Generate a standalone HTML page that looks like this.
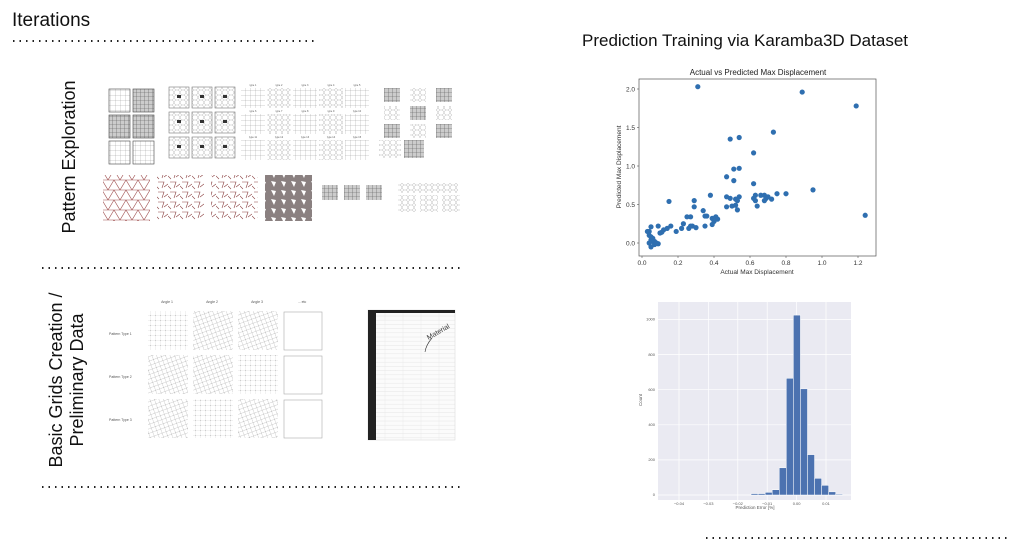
<!DOCTYPE html>
<html><head><meta charset="utf-8"><style>
body{margin:0;background:#fff;}
svg{display:block;font-family:"Liberation Sans",sans-serif;}
</style></head><body>
<svg id="s" width="1024" height="560" viewBox="0 0 1024 560">
<defs>
<pattern id="pGrid" width="5" height="5" patternUnits="userSpaceOnUse"><path d="M5 0H0V5" fill="none" stroke="#999" stroke-width="0.5"/></pattern>
<pattern id="pGridDark" width="4" height="4" patternUnits="userSpaceOnUse"><rect width="4" height="4" fill="#ccc"/><path d="M4 0H0V4" fill="none" stroke="#555" stroke-width="0.6"/></pattern>
<pattern id="pHex" width="6" height="5" patternUnits="userSpaceOnUse"><path d="M0 2.5L1.5 0H4.5L6 2.5L4.5 5H1.5Z" fill="none" stroke="#aaa" stroke-width="0.4"/></pattern>
<pattern id="pTri" width="12" height="10" patternUnits="userSpaceOnUse"><path d="M0 10L6 0L12 10M0 0H12M0 10H12" fill="none" stroke="#a05050" stroke-width="0.6"/></pattern>
<pattern id="pPin" width="12" height="10" patternUnits="userSpaceOnUse"><path d="M2 2L8 2L6 8M8 7L12 4M0 6L3 9" fill="none" stroke="#8a4040" stroke-width="0.6"/></pattern>
<pattern id="pPinG" width="10" height="9" patternUnits="userSpaceOnUse"><rect width="10" height="9" fill="#8a8080"/><path d="M1 1L6 2L4 7Z" fill="#fff"/></pattern>
<pattern id="pDot" width="5" height="5" patternUnits="userSpaceOnUse"><path d="M5 0H0V5" fill="none" stroke="#bbb" stroke-width="0.4"/><circle cx="0" cy="0" r="0.5" fill="#444"/></pattern>
<pattern id="pDiag" width="6" height="6" patternUnits="userSpaceOnUse" patternTransform="rotate(25)"><path d="M0 0L6 6M6 0L0 6" fill="none" stroke="#aaa" stroke-width="0.4"/></pattern>
</defs>

<text x="12" y="26" font-size="19" fill="#111">Iterations</text>
<line x1="13" y1="41" x2="316" y2="41" stroke="#222" stroke-width="2" stroke-dasharray="1.5 5"/>
<text x="745" y="46" font-size="17" text-anchor="middle" fill="#111">Prediction Training via Karamba3D Dataset</text>
<line x1="42" y1="268" x2="464" y2="268" stroke="#222" stroke-width="2" stroke-dasharray="1.5 5"/>
<line x1="42" y1="487" x2="464" y2="487" stroke="#222" stroke-width="2" stroke-dasharray="1.5 5"/>
<line x1="706" y1="538" x2="1010" y2="538" stroke="#222" stroke-width="2" stroke-dasharray="1.5 5"/>

<text transform="translate(75,157) rotate(-90)" font-size="18" text-anchor="middle" fill="#111">Pattern Exploration</text>
<text transform="translate(62,380) rotate(-90)" font-size="18" text-anchor="middle" fill="#111">Basic Grids Creation /</text>
<text transform="translate(83,380) rotate(-90)" font-size="18" text-anchor="middle" fill="#111">Preliminary Data</text>

<g id="thumbs"></g>
<g id="scatter"></g>
<g id="hist"></g>
</svg>
<script>
const NS="http://www.w3.org/2000/svg";
function mk(p,tag,a){const e=document.createElementNS(NS,tag);for(const k in a)e.setAttribute(k,a[k]);p.appendChild(e);return e;}
function tx(p,x,y,s,size,anchor,fill){const e=mk(p,'text',{x:x,y:y,'font-size':size,'text-anchor':anchor||'start',fill:fill||'#333'});e.textContent=s;return e;}

// ---------- thumbnails ----------
const T=document.getElementById('thumbs');
function box(x,y,w,h,fill,stroke,name){const r=mk(T,'rect',{x:x,y:y,width:w,height:h,fill:fill,stroke:stroke||'none','stroke-width':0.6});

return r;}
const f1=['url(#pGrid)','url(#pGridDark)','url(#pGridDark)','url(#pGridDark)','url(#pGrid)','url(#pGrid)'];
for(let r=0;r<3;r++)for(let c=0;c<2;c++)box(109+c*24,89+r*26,21,23,f1[r*2+c],'#444','pattern-tile');
for(let r=0;r<3;r++)for(let c=0;c<3;c++){box(169+c*23,87+r*25,20,21,'url(#pHex)','#777','pattern-tile');mk(T,'rect',{x:177+c*23,y:95+r*25,width:4,height:3,fill:'#333'});}
for(let r=0;r<3;r++)for(let c=0;c<5;c++){box(241+c*26,88+r*26,24,20,c%2?'url(#pHex)':'url(#pGrid)','none','pattern-tile');tx(T,253+c*26,86+r*26,'type '+(r*5+c+1),2.5,'middle','#555');}
for(let r=0;r<3;r++)for(let c=0;c<3;c++)box(384+c*26,88+r*18,16,14,(r+c)%2?'url(#pHex)':'url(#pGridDark)','none','pattern-tile');
box(379,140,22,18,'url(#pHex)','none','pattern-tile');box(404,140,20,18,'url(#pGridDark)','none','pattern-tile');
const f2=['url(#pTri)','url(#pPin)','url(#pPin)','url(#pPinG)'];
for(let i=0;i<4;i++)box(103+i*54,175,47,46,f2[i],'none','triangle-tile');
for(let i=0;i<3;i++)box(322+i*22,185,16,15,'url(#pGridDark)','none','pattern-tile');
for(let i=0;i<3;i++)box(398+i*22,195,18,17,'url(#pHex)','none','pattern-tile');
box(398,183,60,10,'url(#pHex)','none','pattern-tile');

// grid matrix
['Angle 1','Angle 2','Angle 3','... etc'].forEach((s,i)=>tx(T,167+i*45,303,s,3.5,'middle','#555'));
['Pattern Type 1','Pattern Type 2','Pattern Type 3'].forEach((s,i)=>tx(T,109,335+i*43,s,3.5,'start','#555'));
const gf=['url(#pDot)','url(#pDiag)','url(#pDiag)'];
for(let r=0;r<3;r++){for(let c=0;c<3;c++)box(148+c*45,311+r*44,40,39,gf[(r+c)%3],'none','grid-thumbnail');box(284,312+r*44,38,38,'#fff','#aaa','empty-grid-placeholder');}
// spreadsheet
box(368,310,87,130,'#fbfbfb','#ddd','spreadsheet');
mk(T,'rect',{x:368,y:310,width:8,height:130,fill:'#222'});
mk(T,'rect',{x:368,y:310,width:87,height:3,fill:'#222'});
for(let i=0;i<30;i++)mk(T,'line',{x1:376,y1:316+i*4.2,x2:455,y2:316+i*4.2,stroke:'#e0e0e0','stroke-width':0.4});
for(let i=0;i<4;i++)mk(T,'line',{x1:385+i*18,y1:313,x2:385+i*18,y2:440,stroke:'#e8e8e8','stroke-width':0.4});
tx(T,428,338,'Material',7,'start','#333').setAttribute('transform','rotate(-30 432 338)');
mk(T,'path',{d:'M432 338 Q426 345 425 352',fill:'none',stroke:'#333','stroke-width':0.6});

// ---------- scatter ----------
const actual=[0.31,0.89,1.19,0.73,0.54,0.49,0.62,0.54,0.51,0.47,0.51,0.62,0.95,0.75,0.80,1.24,0.15,0.29,0.29,0.38,0.47,0.49,0.54,0.52,0.53,0.47,0.50,0.52,0.53,0.62,0.63,0.63,0.64,0.66,0.68,0.69,0.70,0.72,0.68,0.34,0.35,0.36,0.35,0.39,0.40,0.41,0.42,0.39,0.25,0.27,0.26,0.27,0.28,0.30,0.23,0.22,0.19,0.16,0.14,0.12,0.10,0.09,0.09,0.05,0.04,0.03,0.04,0.05,0.05,0.06,0.07,0.07,0.05,0.06,0.08,0.04,0.11];
const predicted=[2.03,1.96,1.78,1.44,1.37,1.35,1.17,0.97,0.96,0.86,0.81,0.77,0.69,0.64,0.64,0.36,0.54,0.55,0.47,0.62,0.60,0.58,0.60,0.57,0.55,0.47,0.48,0.49,0.43,0.58,0.62,0.55,0.48,0.62,0.62,0.58,0.60,0.57,0.55,0.42,0.35,0.35,0.22,0.32,0.28,0.34,0.31,0.24,0.34,0.34,0.19,0.22,0.22,0.20,0.25,0.19,0.15,0.22,0.19,0.17,0.13,0.22,-0.01,0.21,0.15,0.15,0.10,0.08,0.04,0.02,0.02,-0.02,-0.05,0.06,0.00,0.00,0.14];
const sxTicks=[0,0.2,0.4,0.6,0.8,1.0,1.2];
const syTicks=[0,0.5,1.0,1.5,2.0];
const S=document.getElementById('scatter');
const sx=v=>642+v*180, sy=v=>243-v*77;
let fr=mk(S,'rect',{x:639,y:79,width:237,height:177,fill:'#fff',stroke:'#555','stroke-width':0.7});

sxTicks.forEach(v=>{mk(S,'line',{x1:sx(v),y1:256,x2:sx(v),y2:258,stroke:'#555','stroke-width':0.6});const t=tx(S,sx(v),265,v.toFixed(1),6.5,'middle');});
syTicks.forEach(v=>{mk(S,'line',{x1:637,y1:sy(v),x2:639,y2:sy(v),stroke:'#555','stroke-width':0.6});const t=tx(S,635,sy(v)+2.3,v.toFixed(1),6.5,'end');});
let st=tx(S,758,75,'Actual vs Predicted Max Displacement',8,'middle','#222');
let xl=tx(S,757,274,'Actual Max Displacement',6.5,'middle');
let yl=tx(S,0,0,'Predicted Max Displacement',6.5,'middle');yl.setAttribute('transform','translate(621,167) rotate(-90)');
actual.forEach((a,i)=>{const c=mk(S,'circle',{cx:sx(a),cy:sy(predicted[i]),r:2.6,fill:'#2f6fb0'});

});

// ---------- histogram ----------
const binStart=-0.0155;
const binWidth=0.0024;
const counts=[8,8,15,30,155,665,1025,605,230,95,55,18,5];
const hxTicks=[-0.04,-0.03,-0.02,-0.01,0.00,0.01];
const hyTicks=[0,200,400,600,800,1000];
const H=document.getElementById('hist');
const hx=v=>826+(v-0.01)*2940, hy=c=>495-c*0.1755;
let ha=mk(H,'rect',{x:658,y:302,width:193,height:198,fill:'#eaeaf2'});

hxTicks.forEach(v=>{mk(H,'line',{x1:hx(v),y1:302,x2:hx(v),y2:500,stroke:'#fff','stroke-width':0.7});const t=tx(H,hx(v),505,v.toFixed(2).replace('-','\u2212'),4,'middle','#555');});
hyTicks.forEach(v=>{mk(H,'line',{x1:658,y1:hy(v),x2:851,y2:hy(v),stroke:'#fff','stroke-width':0.7});const t=tx(H,655,hy(v)+1.2,String(v),4,'end','#555');});
counts.forEach((c,i)=>{const x0=hx(binStart+i*binWidth),x1=hx(binStart+(i+1)*binWidth);
const b=mk(H,'rect',{x:x0,y:hy(c),width:x1-x0,height:hy(0)-hy(c),fill:'#4c72b0',stroke:'#fff','stroke-width':0.5});

});
let hxl=tx(H,755,509,'Prediction Error [%]',4.5,'middle','#555');
let hyl=tx(H,0,0,'Count',4.5,'middle','#555');hyl.setAttribute('transform','translate(642,400) rotate(-90)');
</script>
</body></html>
